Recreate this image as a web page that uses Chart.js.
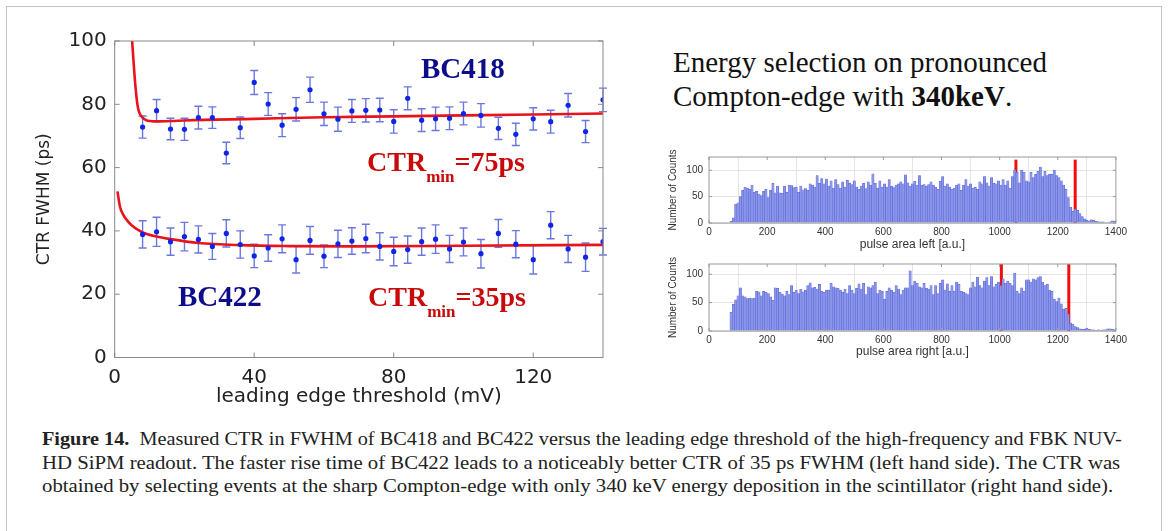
<!DOCTYPE html>
<html>
<head>
<meta charset="utf-8">
<script src="https://cdn.jsdelivr.net/npm/chart.js@4.4.1/dist/chart.umd.min.js"></script>
<style>
    html, body { margin: 0; padding: 0; background: #fff; }
    body { width: 1168px; height: 531px; position: relative; overflow: hidden; font-family: 'Liberation Serif', serif; }
    #frame { position: absolute; left: 6px; top: 6px; width: 1156px; height: 560px; box-sizing: border-box; border: 1px solid #c4c4c4; }
    canvas { position: absolute; }
    .lbl { position: absolute; white-space: nowrap; font-weight: bold; line-height: 1; }
    .bc { color: #0d0d8c; font-size: 29px; }
    .ctr { color: #c80a0a; font-size: 28px; }
    .ctr .sub { font-size: 17px; position: relative; top: 11px; }
    #heading { position: absolute; left: 673px; top: 45px; font-size: 29px; line-height: 34px; color: #111; white-space: nowrap; }
    .cap { position: absolute; left: 42px; font-size: 18px; line-height: 23.5px; color: #222; white-space: nowrap; transform-origin: 0 0; }
</style>
</head>
<body>
<div id="frame"></div>

<canvas id="ctrChart" width="620" height="420" style="left:0;top:0;width:620px;height:420px"></canvas>
<canvas id="histLeft" width="470" height="110" style="left:660px;top:145px;width:470px;height:110px"></canvas>
<canvas id="histRight" width="470" height="110" style="left:660px;top:252px;width:470px;height:110px"></canvas>

<div class="lbl bc" style="left:421px;top:54px">BC418</div>
<div class="lbl bc" style="left:178px;top:282px">BC422</div>
<div class="lbl ctr" style="left:367px;top:148px">CTR<span class="sub">min</span>=75ps</div>
<div class="lbl ctr" style="left:368px;top:283px">CTR<span class="sub">min</span>=35ps</div>

<div id="heading">Energy selection on pronounced<br>Compton-edge with <b>340keV</b>.</div>

<div class="cap" data-w="1080" style="top:428px"><b>Figure 14.</b>&nbsp; Measured CTR in FWHM of BC418 and BC422 versus the leading edge threshold of the high-frequency and FBK NUV-</div>
<div class="cap" data-w="1078" style="top:451.5px">HD SiPM readout. The faster rise time of BC422 leads to a noticeably better CTR of 35 ps FWHM (left hand side). The CTR was</div>
<div class="cap" data-w="1071" style="top:475px">obtained by selecting events at the sharp Compton-edge with only 340 keV energy deposition in the scintillator (right hand side).</div>

<script>
// --- left panel: CTR vs threshold ---
const thresholds = [8, 12, 16, 20, 24, 28, 32, 36, 40, 44, 48, 52, 56, 60, 64, 68, 72, 76, 80, 84, 88, 92, 96, 100,
                    105, 110, 115, 120, 125, 130, 135, 140];
const ctrBC418 = [72.8, 78.0, 72.2, 72.1, 75.8, 75.8, 64.6, 72.6, 86.9, 80.1, 73.4, 78.4, 84.6, 77.0, 75.3, 77.9,
                  78.1, 78.2, 74.6, 81.9, 75.0, 75.4, 75.6, 77.1, 76.5, 72.4, 70.5, 75.4, 74.5, 79.7, 71.4, 81.4];
const errBC418 = [3.5, 3.5, 3.4, 3.5, 3.6, 3.4, 3.4, 3.4, 3.8, 3.6, 3.6, 3.7, 4.0, 3.7, 3.8, 3.6,
                  3.7, 3.7, 3.7, 3.6, 3.6, 3.7, 3.6, 3.6, 3.7, 3.5, 3.5, 3.5, 3.6, 3.7, 3.5, 3.7];
const ctrBC422 = [38.9, 39.7, 36.6, 38.2, 37.3, 35.1, 39.2, 35.7, 32.1, 34.6, 37.5, 30.9, 37.0, 32.0, 35.9, 36.8,
                  37.6, 35.1, 33.5, 34.1, 36.6, 37.4, 34.3, 36.5, 32.8, 39.2, 35.8, 30.9, 41.8, 34.3, 31.7, 36.6];
const errBC422 = [4.3, 4.6, 4.3, 4.5, 4.3, 4.1, 4.3, 4.3, 3.7, 4.2, 4.4, 4.2, 4.4, 3.6, 4.3, 4.2,
                  4.5, 4.3, 4.5, 4.3, 4.3, 4.5, 4.3, 4.4, 4.5, 4.4, 4.3, 4.5, 4.3, 4.3, 4.5, 4.2];

// fit curves
const fitBC418X = [5.0, 5.5, 6.0, 6.5, 7.0, 8.0, 9.0, 10, 12, 16, 20, 40, 60, 80, 100, 120, 140];
const fitBC418Y = [100, 92, 85, 80, 77.5, 75.8, 75.0, 74.7, 74.6, 74.7, 74.9, 75.4, 75.9, 76.2, 76.5, 76.8, 77.1];
const fitBC422X = [0.8, 1.5, 2.5, 3.5, 5, 8, 12, 16, 24, 36, 50, 68, 100, 140];
const fitBC422Y = [52.5, 47.7, 45.0, 43.4, 41.6, 39.5, 38.2, 37.4, 36.2, 35.5, 35.2, 35.1, 35.3, 35.6];

const ctrXTicks = [0, 40, 80, 120];
const ctrYTicks = [0, 20, 40, 60, 80, 100];

// --- right panels: pulse area histograms (bin width 8) ---
const binWidth = 8;
const histLeftStart = 68;
const histLeftCounts = [
    0, 3, 10, 36, 38, 50, 62, 68, 66, 64,
    72, 58, 60, 55, 52, 60, 64, 48, 62, 75,
    57, 70, 57, 56, 70, 58, 72, 71, 67, 68,
    58, 70, 63, 65, 62, 74, 72, 68, 90, 75,
    84, 74, 83, 70, 80, 66, 82, 73, 66, 78,
    68, 81, 75, 73, 80, 68, 64, 70, 75, 65,
    78, 72, 93, 75, 66, 80, 68, 74, 68, 82,
    70, 67, 72, 74, 78, 74, 91, 76, 70, 74,
    79, 72, 90, 72, 73, 70, 73, 78, 72, 68,
    64, 79, 88, 70, 74, 68, 64, 66, 72, 74,
    62, 72, 82, 70, 74, 66, 68, 64, 78, 74,
    88, 76, 70, 86, 75, 74, 80, 72, 82, 72,
    80, 66, 88, 100, 96, 76, 100, 96, 80, 78,
    96, 86, 92, 98, 106, 88, 98, 90, 92, 92,
    100, 90, 86, 80, 72, 64, 48, 30, 22, 26,
    24, 18, 12, 8, 5, 4, 6, 5, 3, 2,
    2, 2, 1, 1, 2, 4, 3
];
const histLeftCuts = [1056, 1260];

const histRightStart = 76;
const histRightCounts = [
    33, 47, 55, 62, 76, 62, 60, 57, 58, 57,
    58, 70, 69, 62, 70, 68, 66, 60, 54, 76,
    75, 68, 65, 62, 70, 64, 80, 68, 72, 66,
    74, 69, 72, 80, 85, 76, 77, 74, 82, 70,
    68, 72, 72, 84, 78, 76, 75, 72, 68, 74,
    66, 80, 72, 66, 75, 83, 74, 84, 64, 78,
    76, 80, 86, 66, 72, 70, 56, 70, 76, 72,
    68, 80, 74, 64, 72, 76, 76, 106, 80, 88,
    84, 78, 76, 84, 75, 74, 80, 64, 80, 66,
    84, 90, 72, 83, 70, 80, 70, 86, 82, 70,
    68, 66, 64, 76, 86, 78, 95, 80, 76, 88,
    94, 80, 96, 78, 82, 86, 80, 92, 84, 88,
    84, 80, 102, 70, 66, 76, 70, 90, 90, 86,
    92, 90, 94, 96, 86, 80, 82, 72, 70, 56,
    52, 58, 48, 38, 40, 30, 14, 12, 8, 6,
    4, 3, 3, 5, 3, 2, 2, 1, 2, 1,
    2, 2, 4, 4, 3, 2
];
const histRightCuts = [1006, 1238];

const histXTicks = [0, 200, 400, 600, 800, 1000, 1200, 1400];
const histYTicks = [0, 50, 100];

Chart.defaults.animation = false;
Chart.defaults.plugins.legend.display = false;
Chart.defaults.plugins.tooltip.enabled = false;
Chart.defaults.events = [];

// box around the plot area with inward ticks on all four sides
const frameBox = {
    id: 'frameBox',
    afterDraw(chart, args, opts) {
        const { ctx, chartArea: a, scales: { x, y } } = chart;
        ctx.save();
        ctx.strokeStyle = opts.color;
        ctx.lineWidth = 1;
        ctx.strokeRect(a.left, a.top, a.right - a.left, a.bottom - a.top);
        ctx.beginPath();
        x.ticks.forEach(t => {
            const px = x.getPixelForValue(t.value);
            ctx.moveTo(px, a.bottom); ctx.lineTo(px, a.bottom - opts.tick);
            ctx.moveTo(px, a.top); ctx.lineTo(px, a.top + opts.tick);
        });
        y.ticks.forEach(t => {
            const py = y.getPixelForValue(t.value);
            ctx.moveTo(a.left, py); ctx.lineTo(a.left + opts.tick, py);
            ctx.moveTo(a.right, py); ctx.lineTo(a.right - opts.tick, py);
        });
        ctx.stroke();
        ctx.restore();
    }
};

const errorBars = {
    id: 'errorBars',
    beforeDatasetsDraw(chart) {
        const { ctx, scales: { x, y } } = chart;
        chart.data.datasets.forEach(ds => {
            if (!ds.errors) return;
            ctx.save();
            ctx.strokeStyle = ds.errorColor;
            ctx.lineWidth = 1.4;
            ctx.beginPath();
            ds.data.forEach((p, i) => {
                const px = x.getPixelForValue(p.x);
                const top = y.getPixelForValue(p.y + ds.errors[i]);
                const bot = y.getPixelForValue(p.y - ds.errors[i]);
                ctx.moveTo(px, top); ctx.lineTo(px, bot);
                ctx.moveTo(px - 4, top); ctx.lineTo(px + 4, top);
                ctx.moveTo(px - 4, bot); ctx.lineTo(px + 4, bot);
            });
            ctx.stroke();
            ctx.restore();
        });
    }
};

const toPoints = (xs, ys) => xs.map((x, i) => ({ x: x, y: ys[i] }));

const axisFont = { family: 'DejaVu Sans', size: 20 };

new Chart(document.getElementById('ctrChart'), {
    type: 'scatter',
    data: {
        datasets: [
            {
                data: toPoints(thresholds, ctrBC418),
                errors: errBC418,
                errorColor: 'rgba(70, 85, 215, 0.8)',
                backgroundColor: '#1024e6',
                borderWidth: 0,
                pointRadius: 2.6
            },
            {
                data: toPoints(thresholds, ctrBC422),
                errors: errBC422,
                errorColor: 'rgba(70, 85, 215, 0.8)',
                backgroundColor: '#1024e6',
                borderWidth: 0,
                pointRadius: 2.6
            },
            {
                data: toPoints(fitBC418X, fitBC418Y),
                showLine: true,
                borderColor: '#e8141c',
                borderWidth: 2.6,
                pointRadius: 0,
                cubicInterpolationMode: 'monotone'
            },
            {
                data: toPoints(fitBC422X, fitBC422Y),
                showLine: true,
                borderColor: '#e8141c',
                borderWidth: 2.6,
                pointRadius: 0,
                cubicInterpolationMode: 'monotone'
            }
        ]
    },
    options: {
        responsive: false,
        layout: { padding: { top: 41, right: 17, left: 0, bottom: 0 } },
        scales: {
            x: {
                type: 'linear',
                min: 0,
                max: 140,
                afterBuildTicks: s => { s.ticks = ctrXTicks.map(v => ({ value: v })); },
                afterFit: s => { s.height = 62.5; },
                grid: { display: false, drawTicks: false },
                border: { display: false },
                ticks: { font: axisFont, color: '#222', padding: 8, maxRotation: 0 },
                title: {
                    display: true,
                    text: 'leading edge threshold (mV)',
                    font: axisFont,
                    color: '#222',
                    padding: { top: 0, bottom: 11 }
                }
            },
            y: {
                min: 0,
                max: 100,
                afterBuildTicks: s => { s.ticks = ctrYTicks.map(v => ({ value: v })); },
                afterFit: s => { s.width = 114.7; },
                grid: { display: false, drawTicks: false },
                border: { display: false },
                ticks: { font: axisFont, color: '#222', padding: 8 },
                title: {
                    display: true,
                    text: 'CTR FWHM (ps)',
                    font: { family: 'DejaVu Sans', size: 17 },
                    color: '#222',
                    padding: { top: 34, bottom: 0 }
                }
            }
        },
        plugins: { frameBox: { color: '#8a8a8a', tick: 5 } }
    },
    plugins: [errorBars, frameBox]
});

function makeHist(id, start, counts, cuts, cutTop, yMax, xTitle, axisHeight) {
    const centers = counts.map((c, i) => start + i * binWidth);
    const datasets = [{
        type: 'bar',
        data: toPoints(centers, counts),
        backgroundColor: '#8a94e8',
        borderColor: '#5764d8',
        borderWidth: 0.5,
        barPercentage: 1,
        categoryPercentage: 1
    }];
    cuts.forEach(c => {
        datasets.push({
            type: 'line',
            data: [{ x: c, y: 0 }, { x: c, y: cutTop }],
            borderColor: '#ee1010',
            borderWidth: 3,
            pointRadius: 0
        });
    });
    const tickFont = { family: 'Liberation Sans', size: 10 };
    new Chart(document.getElementById(id), {
        type: 'bar',
        data: { datasets: datasets },
        options: {
            responsive: false,
            layout: { padding: { top: 9, right: 13, left: 0, bottom: 0 } },
            scales: {
                x: {
                    type: 'linear',
                    min: 0,
                    max: 1400,
                    offset: false,
                    afterBuildTicks: s => { s.ticks = histXTicks.map(v => ({ value: v })); },
                    afterFit: s => { s.height = axisHeight; },
                    grid: { color: '#e4e4e4', drawTicks: false },
                    border: { display: false },
                    ticks: { font: tickFont, color: '#333', padding: 3, maxRotation: 0, callback: v => String(v) },
                    title: {
                        display: true,
                        text: xTitle,
                        font: { family: 'Liberation Sans', size: 12 },
                        color: '#333',
                        padding: { top: 0, bottom: 3 }
                    }
                },
                y: {
                    min: 0,
                    max: yMax,
                    afterBuildTicks: s => { s.ticks = histYTicks.map(v => ({ value: v })); },
                    afterFit: s => { s.width = 49; },
                    grid: { color: '#e4e4e4', drawTicks: false },
                    border: { display: false },
                    ticks: { font: tickFont, color: '#333', padding: 6, callback: v => String(v) },
                    title: {
                        display: true,
                        text: 'Number of Counts',
                        font: { family: 'Liberation Sans', size: 10 },
                        color: '#333',
                        padding: { top: 7, bottom: 0 }
                    }
                }
            },
            plugins: { frameBox: { color: '#9a9a9a', tick: 3 } }
        },
        plugins: [frameBox]
    });
}

makeHist('histLeft', histLeftStart, histLeftCounts, histLeftCuts, 120, 125, 'pulse area left [a.u.]', 32);
makeHist('histRight', histRightStart, histRightCounts, histRightCuts, 118, 118, 'pulse area right [a.u.]', 31);

// stretch each caption line to the width it has in the figure
document.querySelectorAll('.cap').forEach(el => {
    const w = parseFloat(el.dataset.w);
    el.style.transform = 'scaleX(' + (w / el.offsetWidth) + ')';
});
</script>
</body>
</html>
